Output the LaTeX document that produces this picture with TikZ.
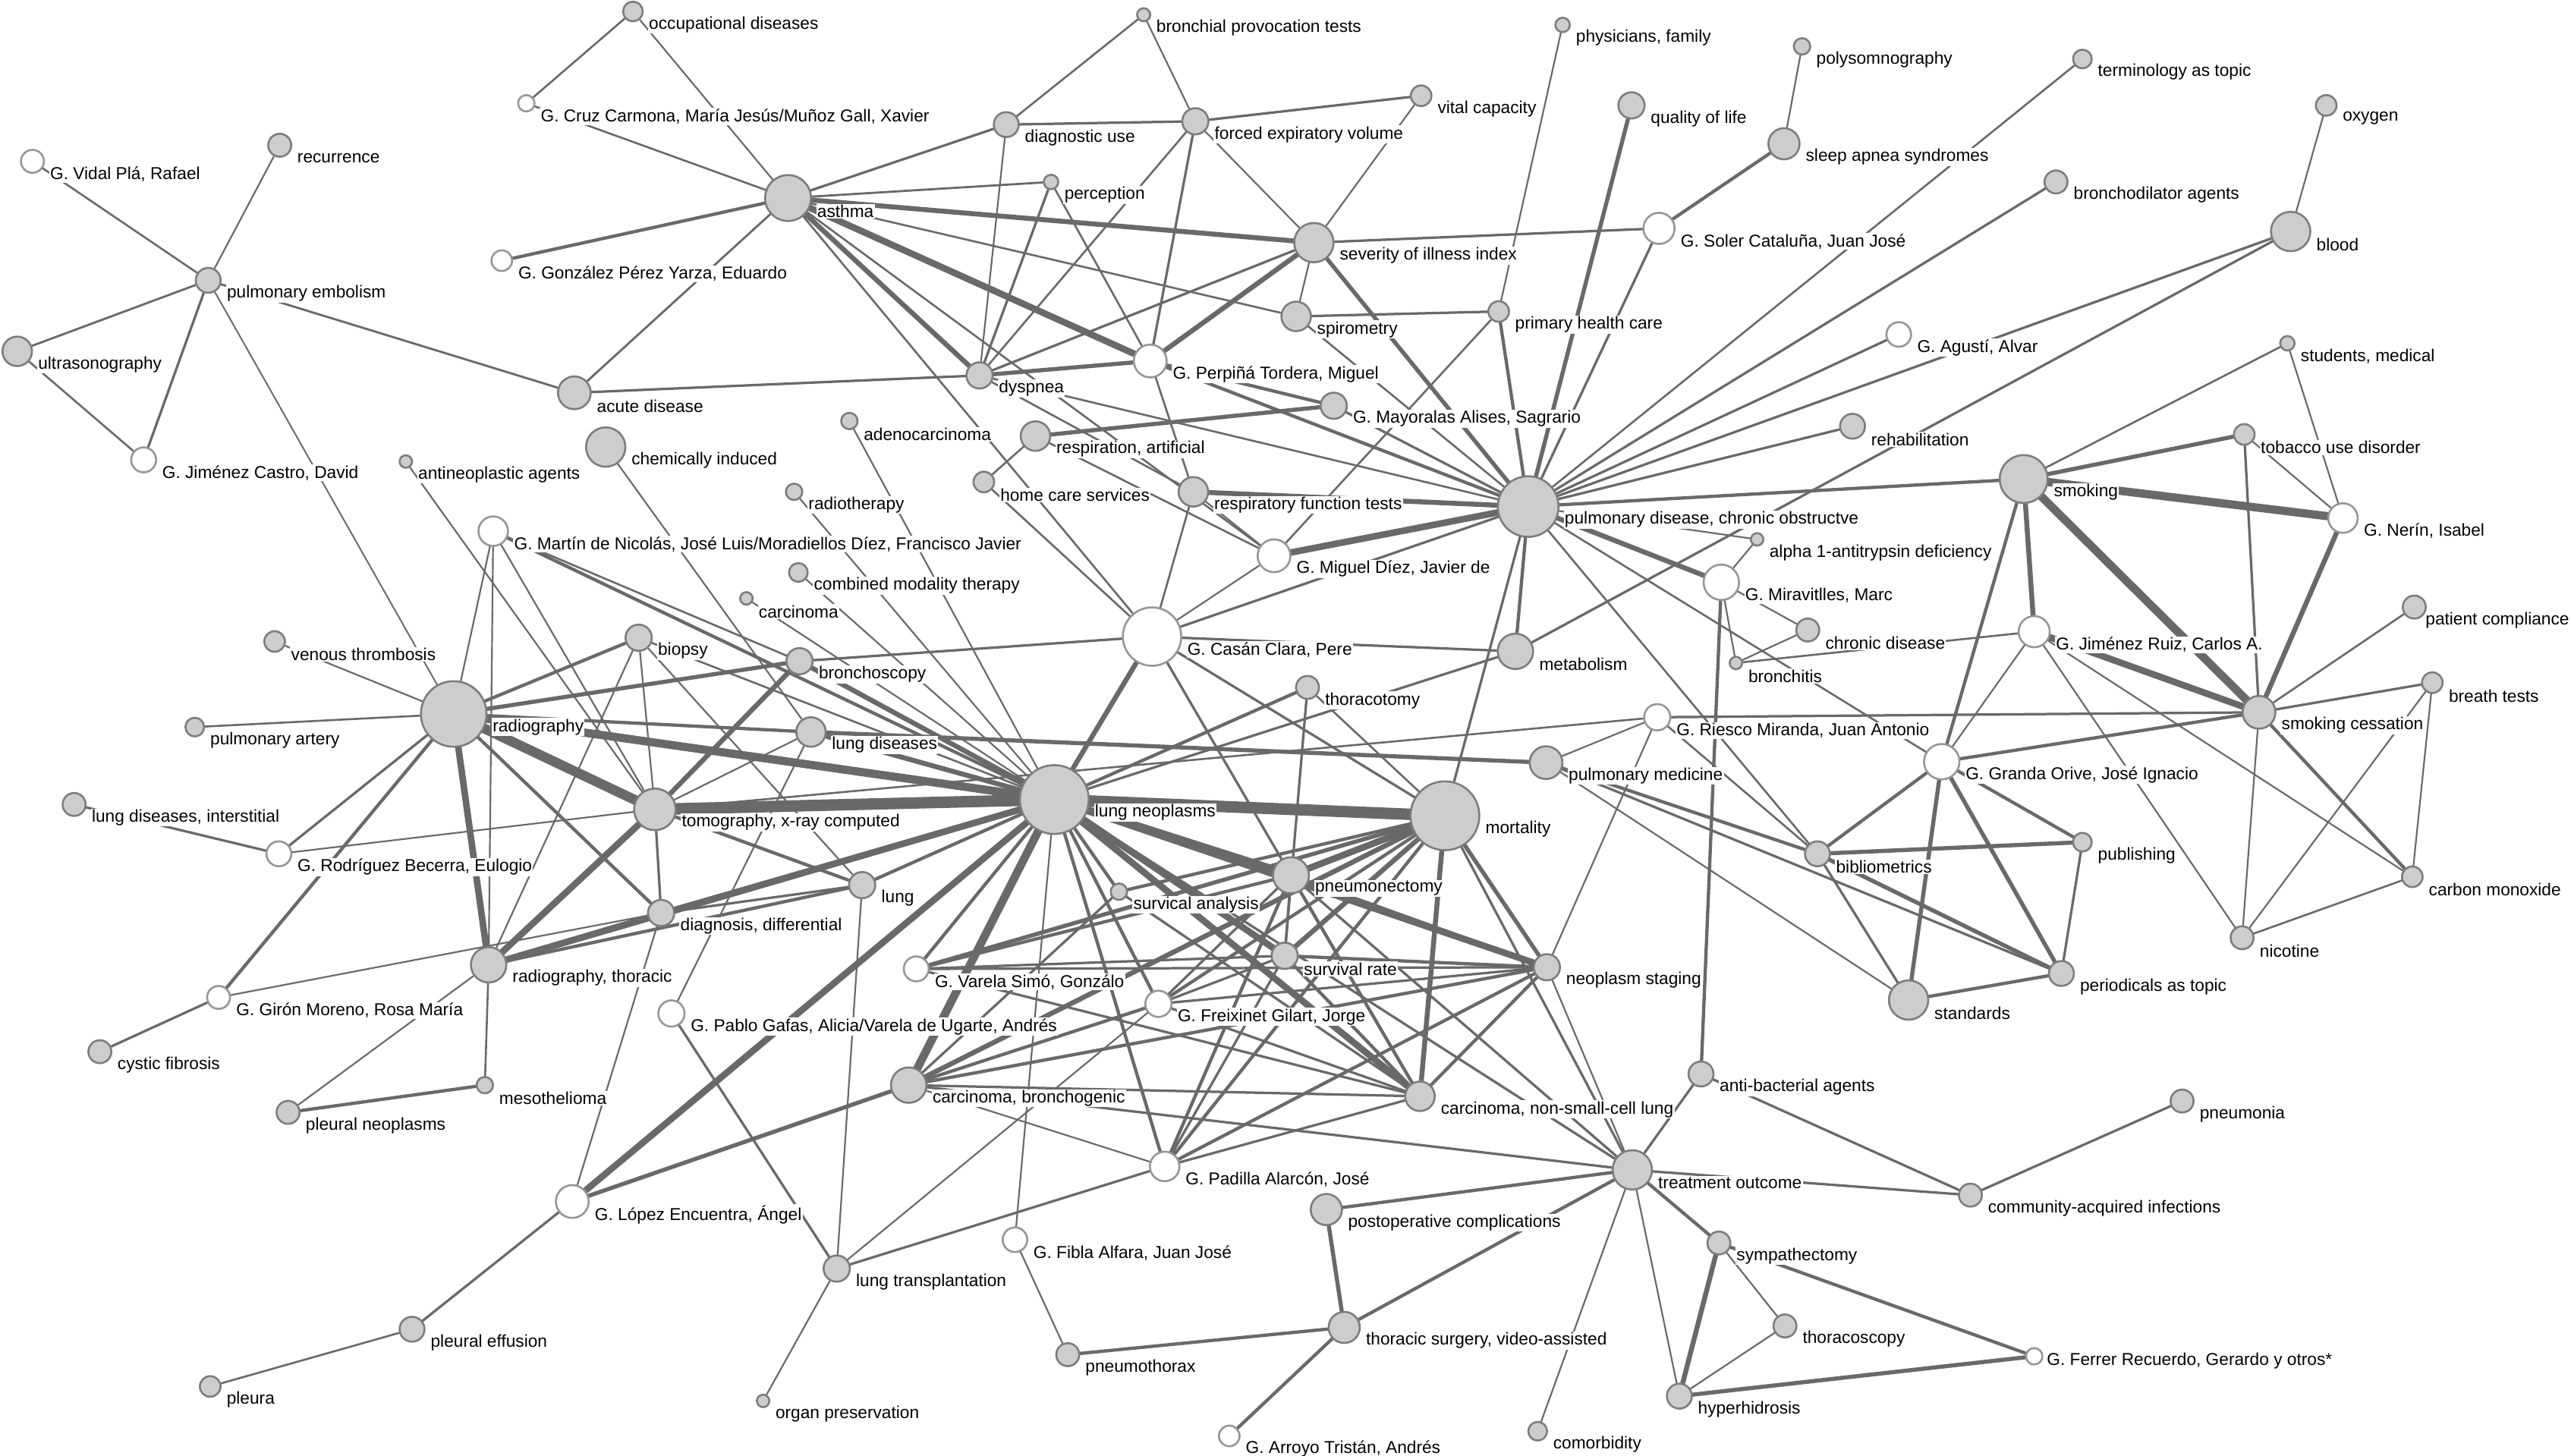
\documentclass[tikz,border=0pt]{standalone}
\usepackage{fontspec}
\setmainfont{Liberation Sans}
\definecolor{edgec}{RGB}{105,105,105}
\definecolor{nfill}{RGB}{205,205,205}
\definecolor{nbord}{RGB}{125,125,125}
\definecolor{wbord}{RGB}{150,150,150}
\pgfdeclarelayer{bg}
\pgfdeclarelayer{edges}
\pgfdeclarelayer{labels}
\pgfsetlayers{bg,edges,labels,main}
\tikzset{
  gnode/.style={circle, draw=nbord, fill=nfill, line width=1.2pt, inner sep=0pt},
  wnode/.style={circle, draw=wbord, fill=white, line width=1.2pt, inner sep=0pt},
  lbl/.style={anchor=west, fill=white, inner sep=0.6pt, font=\fontsize{10.5}{12}\selectfont, text=black},
  edge/.style={draw=edgec, line cap=round},
}
\newcommand{\mkn}[6]{%
  \node[#1, minimum size={2*#5}] (#2) at (#3,#4) {};
  \begin{pgfonlayer}{labels}\node[lbl] at ({#3+#5+3},{#4+8}) {#6};\end{pgfonlayer}}
\begin{document}
\begin{tikzpicture}[x=1pt,y=-1pt]
\begin{pgfonlayer}{bg}
\fill[white] (0,0) rectangle (1568,888);
\end{pgfonlayer}
\useasboundingbox (0,0) rectangle (1568,888);
% nodes
\mkn{gnode}{occDis}{386}{7}{6}{occupational diseases}
\mkn{gnode}{bronchProv}{697.5}{9}{4}{bronchial provocation tests}
\mkn{wnode}{cruz}{321}{63}{5}{G. Cruz Carmona, María Jesús/Muñoz Gall, Xavier}
\mkn{gnode}{diagUse}{613.7}{76}{7.6}{diagnostic use}
\mkn{gnode}{forcedExp}{729}{74}{8}{forced expiratory volume}
\mkn{gnode}{vitalCap}{866.7}{58.4}{6.3}{vital capacity}
\mkn{gnode}{physicians}{953}{15.2}{4.4}{physicians, family}
\mkn{gnode}{polysomno}{1099}{28.3}{5}{polysomnography}
\mkn{gnode}{terminology}{1270}{36}{5.7}{terminology as topic}
\mkn{gnode}{oxygen}{1418.7}{64.3}{6.3}{oxygen}
\mkn{gnode}{qol}{995}{64.3}{8}{quality of life}
\mkn{gnode}{sleepApnea}{1088}{87.7}{9.5}{sleep apnea syndromes}
\mkn{gnode}{bronchodil}{1253.9}{111}{7}{bronchodilator agents}
\mkn{gnode}{blood}{1397}{141.2}{12}{blood}
\mkn{wnode}{vidal}{19.8}{98.4}{7}{G. Vidal Plá, Rafael}
\mkn{gnode}{recurrence}{170.6}{88.6}{7}{recurrence}
\mkn{gnode}{pulmEmb}{127}{171}{7.6}{pulmonary embolism}
\mkn{gnode}{ultrasono}{10.5}{214.3}{9}{ultrasonography}
\mkn{wnode}{jimCastro}{87.6}{280.5}{7.6}{G. Jiménez Castro, David}
\mkn{gnode}{asthma}{480.6}{120.8}{14}{asthma}
\mkn{gnode}{perception}{641}{111}{4.4}{perception}
\mkn{wnode}{gonzalez}{306}{159}{6.3}{G. González Pérez Yarza, Eduardo}
\mkn{gnode}{severity}{801.3}{148}{12}{severity of illness index}
\mkn{wnode}{soler}{1011.8}{139.3}{9.5}{G. Soler Cataluña, Juan José}
\mkn{gnode}{phc}{914}{190}{6.3}{primary health care}
\mkn{gnode}{spirometry}{790.5}{193}{9}{spirometry}
\mkn{gnode}{acuteDis}{350.3}{239.6}{10}{acute disease}
\mkn{gnode}{dyspnea}{597.4}{229}{8}{dyspnea}
\mkn{wnode}{perpina}{701.5}{220.2}{10}{G. Perpiñá Tordera, Miguel}
\mkn{wnode}{agusti}{1158}{204}{7.5}{G. Agustí, Alvar}
\mkn{gnode}{students}{1395}{209.4}{4.4}{students, medical}
\mkn{gnode}{mayoralas}{813.4}{247.5}{8}{G. Mayoralas Alises, Sagrario}
\mkn{gnode}{adeno}{518}{256.8}{5}{adenocarcinoma}
\mkn{gnode}{respArt}{631.5}{266}{9}{respiration, artificial}
\mkn{gnode}{chemical}{369.4}{272.7}{12}{chemically induced}
\mkn{gnode}{antineo}{247.5}{281.5}{3.8}{antineoplastic agents}
\mkn{gnode}{rehab}{1129.8}{260}{7.6}{rehabilitation}
\mkn{gnode}{homeCare}{600}{294}{6.3}{home care services}
\mkn{gnode}{respFunc}{727.8}{300}{9}{respiratory function tests}
\mkn{gnode}{radiotherapy}{484.3}{300}{5}{radiotherapy}
\mkn{gnode}{copd}{932}{309}{18.5}{pulmonary disease, chronic obstructve}
\mkn{gnode}{smoking}{1234.2}{292.2}{14.6}{smoking}
\mkn{gnode}{tobacco}{1368.7}{265}{6.3}{tobacco use disorder}
\mkn{wnode}{nerin}{1428.9}{316}{9}{G. Nerín, Isabel}
\mkn{wnode}{martin}{300.8}{324}{9}{G. Martín de Nicolás, José Luis/Moradiellos Díez, Francisco Javier}
\mkn{gnode}{alpha}{1071.6}{329}{3.8}{alpha 1-antitrypsin deficiency}
\mkn{wnode}{miguel}{777}{339}{10}{G. Miguel Díez, Javier de}
\mkn{gnode}{combined}{486.9}{349.2}{5.7}{combined modality therapy}
\mkn{wnode}{miravitlles}{1049.8}{355.2}{10.8}{G. Miravitlles, Marc}
\mkn{gnode}{carcinoma}{455.2}{365}{3.8}{carcinoma}
\node[gnode, minimum size=14] (patComp) at (1472.4,370.3) {};
\begin{pgfonlayer}{labels}\node[lbl, inner sep=0.3pt] at (1478.8,378.3) {patient compliance};\end{pgfonlayer}
\mkn{gnode}{chronicDis}{1102.5}{384.3}{7}{chronic disease}
\mkn{wnode}{casan}{702.6}{388.3}{17.8}{G. Casán Clara, Pere}
\mkn{wnode}{jimRuiz}{1240.6}{385.3}{9.5}{G. Jiménez Ruiz, Carlos A.}
\mkn{gnode}{venous}{167.5}{391.3}{6.3}{venous thrombosis}
\mkn{gnode}{biopsy}{389.5}{389}{8}{biopsy}
\mkn{gnode}{metabolism}{924.2}{397.3}{10.8}{metabolism}
\mkn{gnode}{bronchitis}{1058.7}{404.4}{3.8}{bronchitis}
\mkn{gnode}{bronchoscopy}{487.6}{403.3}{8}{bronchoscopy}
\mkn{gnode}{thoracotomy}{797.4}{419.3}{7}{thoracotomy}
\mkn{gnode}{breath}{1483.4}{416.4}{6.3}{breath tests}
\mkn{gnode}{smokCess}{1377.7}{434.5}{10}{smoking cessation}
\mkn{gnode}{radiography}{276.7}{435.5}{20}{radiography}
\mkn{gnode}{pulmArtery}{118.8}{443.5}{5.7}{pulmonary artery}
\mkn{wnode}{riesco}{1010.7}{437.5}{8}{G. Riesco Miranda, Juan Antonio}
\mkn{gnode}{lungDis}{494.6}{446.5}{9}{lung diseases}
\mkn{wnode}{granda}{1184.2}{464.6}{10.8}{G. Granda Orive, José Ignacio}
\mkn{gnode}{pulmMed}{942.9}{465.2}{10}{pulmonary medicine}
\mkn{gnode}{lungNeo}{643}{487.7}{21}{lung neoplasms}
\mkn{gnode}{mortality}{881.2}{497.6}{21}{mortality}
\mkn{gnode}{tomography}{399.4}{493.7}{12.7}{tomography, x-ray computed}
\mkn{gnode}{interstitial}{45.2}{490.7}{7}{lung diseases, interstitial}
\mkn{wnode}{rodriguez}{170.1}{520.8}{7.6}{G. Rodríguez Becerra, Eulogio}
\mkn{gnode}{bibliometrics}{1108.4}{520.8}{7.6}{bibliometrics}
\mkn{gnode}{publishing}{1270}{513.7}{5.7}{publishing}
\mkn{gnode}{carbonMon}{1471.2}{534.8}{6.3}{carbon monoxide}
\mkn{gnode}{pneumonectomy}{787.3}{533.9}{11}{pneumonectomy}
\mkn{gnode}{lung}{525.8}{539.9}{8}{lung}
\mkn{gnode}{survical}{682.4}{543.9}{5}{survical analysis}
\mkn{gnode}{diagDiff}{403.2}{556.9}{8}{diagnosis, differential}
\mkn{gnode}{radThor}{298}{588.5}{10.8}{radiography, thoracic}
\mkn{wnode}{varela}{558.8}{591}{7.6}{G. Varela Simó, Gonzálo}
\mkn{gnode}{survivalRate}{783.5}{583}{8}{survival rate}
\mkn{gnode}{neoStaging}{943.4}{590}{8}{neoplasm staging}
\mkn{gnode}{nicotine}{1367.4}{572}{7}{nicotine}
\mkn{gnode}{periodicals}{1257.2}{593.8}{7.6}{periodicals as topic}
\mkn{gnode}{standards}{1164}{610}{12}{standards}
\mkn{wnode}{giron}{133.3}{608.4}{7}{G. Girón Moreno, Rosa María}
\mkn{wnode}{freixinet}{706.5}{612.3}{8}{G. Freixinet Gilart, Jorge}
\mkn{wnode}{pablo}{409.5}{618.2}{8}{G. Pablo Gafas, Alicia/Varela de Ugarte, Andrés}
\mkn{gnode}{cystic}{60.9}{641.5}{7}{cystic fibrosis}
\mkn{gnode}{carcBronch}{554.2}{661.9}{10.8}{carcinoma, bronchogenic}
\mkn{gnode}{carcNSC}{866}{668.7}{9}{carcinoma, non-small-cell lung}
\mkn{gnode}{antibact}{1037.4}{655.1}{7.6}{anti-bacterial agents}
\mkn{gnode}{pneumonia}{1330.8}{671.6}{7}{pneumonia}
\mkn{gnode}{meso}{295.7}{661.9}{5}{mesothelioma}
\mkn{gnode}{pleuralNeo}{175.7}{678.5}{7}{pleural neoplasms}
\mkn{wnode}{padilla}{710.3}{711.5}{9}{G. Padilla Alarcón, José}
\mkn{gnode}{treatment}{995.5}{713.6}{12}{treatment outcome}
\mkn{gnode}{community}{1201.7}{729}{7}{community-acquired infections}
\mkn{wnode}{lopez}{349}{732.9}{10}{G. López Encuentra, Ángel}
\mkn{gnode}{postop}{808.9}{737.8}{9.5}{postoperative complications}
\mkn{gnode}{sympath}{1048.3}{758.2}{7}{sympathectomy}
\mkn{wnode}{fibla}{619}{756.2}{7.5}{G. Fibla Alfara, Juan José}
\mkn{gnode}{lungTrans}{510.3}{773.8}{8}{lung transplantation}
\mkn{gnode}{thoracoscopy}{1088.6}{808.8}{7}{thoracoscopy}
\mkn{gnode}{pleuralEff}{251.3}{810.8}{7.6}{pleural effusion}
\mkn{gnode}{thorSurg}{819.8}{809.7}{9.5}{thoracic surgery, video-assisted}
\mkn{gnode}{pneumothorax}{651.2}{826.3}{7}{pneumothorax}
\mkn{gnode}{pleura}{128.2}{845.7}{6.3}{pleura}
\mkn{gnode}{hyperhid}{1024.2}{851.6}{7.6}{hyperhidrosis}
\mkn{gnode}{organ}{465.4}{854.5}{3.8}{organ preservation}
\mkn{gnode}{comorb}{937.8}{873}{5.7}{comorbidity}
\mkn{wnode}{arroyo}{749.7}{875.9}{6.3}{G. Arroyo Tristán, Andrés}
\node[wnode, minimum size=10] (ferrer) at (1240.6,827.3) {};
\begin{pgfonlayer}{labels}\node[lbl] at (1247.6,830.3) {G. Ferrer Recuerdo, Gerardo y otros*};\end{pgfonlayer}
% edges
\begin{pgfonlayer}{edges}
\foreach \a/\b/\w in {
vidal/pulmEmb/1.2, recurrence/pulmEmb/1, ultrasono/pulmEmb/1.3, ultrasono/jimCastro/1.2,
pulmEmb/jimCastro/1.5, pulmEmb/acuteDis/1.3, pulmEmb/radiography/0.9,
occDis/cruz/1.2, occDis/asthma/1, cruz/asthma/1.2, gonzalez/asthma/2, acuteDis/asthma/1.3,
acuteDis/dyspnea/1.5, asthma/diagUse/1.5, asthma/perception/1.3, asthma/severity/3,
asthma/spirometry/1.2, asthma/perpina/4, asthma/dyspnea/3, asthma/casan/1.2, asthma/miguel/1.2,
diagUse/bronchProv/1.2, diagUse/forcedExp/1.5, diagUse/dyspnea/1, bronchProv/forcedExp/1,
forcedExp/vitalCap/1.5, forcedExp/severity/1, forcedExp/perpina/1.5, forcedExp/dyspnea/1.2,
vitalCap/severity/1, perception/dyspnea/1.5, perception/perpina/1.2, perpina/severity/3,
dyspnea/severity/1.5, dyspnea/perpina/2.5, dyspnea/copd/1.2, dyspnea/respFunc/1.2,
perpina/copd/2, perpina/respFunc/1.2, perpina/mayoralas/2, severity/soler/1.5,
severity/spirometry/1, severity/copd/2.5, spirometry/phc/1.5, spirometry/copd/1.2,
phc/physicians/1, phc/copd/2, phc/miguel/1.2, qol/copd/2.5, soler/sleepApnea/2, soler/copd/1.5,
sleepApnea/polysomno/1, terminology/copd/1.2, bronchodil/copd/1.5, blood/oxygen/1,
blood/copd/1.5, blood/metabolism/1.5, agusti/copd/1.5, rehab/copd/1.5,
respArt/mayoralas/2.5, respArt/homeCare/1.2, respArt/miguel/1.2, homeCare/casan/1.2,
mayoralas/copd/1.5, respFunc/copd/3, respFunc/casan/1.2, respFunc/miguel/1,
copd/miguel/4, copd/miravitlles/3, copd/metabolism/2, copd/mortality/1.5, copd/casan/1.5,
copd/smoking/2, copd/alpha/1, copd/granda/1.2, copd/bibliometrics/1.2, miguel/casan/1,
miravitlles/alpha/1, miravitlles/chronicDis/1, miravitlles/bronchitis/1, miravitlles/antibact/2,
chronicDis/bronchitis/1, bronchitis/jimRuiz/1.2,
smoking/tobacco/2.5, smoking/students/1.2, smoking/nerin/5, smoking/jimRuiz/3, smoking/smokCess/5,
smoking/granda/2, tobacco/smokCess/1.5, tobacco/nerin/1, students/nerin/1, nerin/smokCess/3,
jimRuiz/smokCess/4, jimRuiz/granda/1, jimRuiz/nicotine/1, jimRuiz/carbonMon/1,
riesco/smokCess/1.5, granda/smokCess/2, smokCess/patComp/1.2, smokCess/breath/1.5,
smokCess/carbonMon/2, smokCess/nicotine/1, breath/carbonMon/1, breath/nicotine/1,
nicotine/carbonMon/1.2, granda/publishing/2, granda/bibliometrics/2, granda/periodicals/2.5,
granda/standards/2.5, bibliometrics/publishing/2.5, bibliometrics/periodicals/2.5,
bibliometrics/standards/1.5, standards/periodicals/2, publishing/periodicals/1.5,
pulmMed/bibliometrics/2, pulmMed/periodicals/1.5, pulmMed/standards/1, riesco/bibliometrics/1.2,
riesco/pulmMed/1, riesco/neoStaging/1, tomography/riesco/1.2,
venous/radiography/1, pulmArtery/radiography/1.2, martin/radiography/1, martin/radThor/1,
martin/tomography/1, martin/lungNeo/2, martin/bronchoscopy/1.2, antineo/tomography/1,
radiography/biopsy/2, radiography/bronchoscopy/2.5, radiography/lungDis/2, radiography/lungNeo/5,
radiography/tomography/6, radiography/radThor/4, radiography/diagDiff/2, radiography/rodriguez/1.5,
radiography/giron/2, rodriguez/interstitial/1.5, rodriguez/tomography/1, giron/cystic/1.5,
giron/diagDiff/1, biopsy/tomography/1, biopsy/lung/1, biopsy/lungNeo/1.2, biopsy/radThor/1,
tomography/lungNeo/7, tomography/bronchoscopy/3, tomography/lungDis/1, tomography/radThor/4,
tomography/lung/2, tomography/diagDiff/1.5, radThor/lungNeo/4, radThor/diagDiff/3, radThor/lung/2,
radThor/meso/1.2, pleuralNeo/radThor/1, meso/pleuralNeo/2, chemical/lungDis/1, lungDis/lungNeo/3,
lungDis/pulmMed/2.5, bronchoscopy/lungNeo/3, casan/bronchoscopy/1.5, carcinoma/lungNeo/1,
combined/lungNeo/1, radiotherapy/lungNeo/1, adeno/lungNeo/1, diagDiff/lungNeo/3, lung/lungNeo/2,
lung/diagDiff/1.5, lung/lungTrans/1, lopez/lungNeo/4, lopez/carcBronch/2.5, lopez/diagDiff/1,
lopez/pleuralEff/1.5, pleuralEff/pleura/1.2, pablo/lungTrans/1.5, pablo/lungDis/1,
lungTrans/organ/1, lungTrans/padilla/1.5, lungTrans/freixinet/1, fibla/lungNeo/1,
fibla/pneumothorax/1, pneumothorax/thorSurg/2, thorSurg/postop/2.5, thorSurg/arroyo/2,
thorSurg/treatment/2, postop/treatment/2, treatment/antibact/1.5, treatment/community/1.5,
antibact/community/1.5, community/pneumonia/1.5, treatment/sympath/2, treatment/hyperhid/1,
treatment/comorb/1, sympath/hyperhid/3, sympath/thoracoscopy/1, sympath/ferrer/2,
thoracoscopy/hyperhid/1, hyperhid/ferrer/2.5, treatment/lungNeo/1.5, treatment/pneumonectomy/1.5,
treatment/mortality/1.5, treatment/neoStaging/1, carcBronch/treatment/1.5,
casan/lungNeo/3, casan/metabolism/1.5, casan/mortality/1.5, casan/pneumonectomy/1.5,
lungNeo/thoracotomy/2, lungNeo/metabolism/1.5, lungNeo/mortality/7, lungNeo/pneumonectomy/5,
lungNeo/survivalRate/4, lungNeo/carcNSC/4, lungNeo/neoStaging/4, lungNeo/survical/2,
lungNeo/carcBronch/5, lungNeo/varela/2, lungNeo/padilla/2, lungNeo/freixinet/2,
thoracotomy/mortality/1.2, thoracotomy/survivalRate/1.5, mortality/pneumonectomy/4,
mortality/survivalRate/3, mortality/neoStaging/2.5, mortality/carcNSC/3, mortality/freixinet/2,
mortality/padilla/2, mortality/varela/2.5, mortality/survical/2, mortality/carcBronch/3,
pneumonectomy/survivalRate/1.5, pneumonectomy/neoStaging/2, pneumonectomy/carcNSC/2,
pneumonectomy/freixinet/1.5, pneumonectomy/padilla/2, pneumonectomy/varela/2,
survivalRate/neoStaging/2, survivalRate/carcNSC/2, survivalRate/padilla/1.5,
survivalRate/freixinet/1.5, survivalRate/varela/1.5, neoStaging/carcNSC/2, neoStaging/padilla/2,
neoStaging/freixinet/1.5, neoStaging/carcBronch/2, neoStaging/varela/1.5, carcNSC/freixinet/1.5,
carcNSC/padilla/1.5, carcNSC/carcBronch/1.5, carcNSC/varela/1.5, carcNSC/survical/1.5,
padilla/carcBronch/1, freixinet/carcBronch/2, survical/carcBronch/1.5}
{\draw[edge, line width=\w pt] (\a) -- (\b);}
\end{pgfonlayer}
\end{tikzpicture}
\end{document}
